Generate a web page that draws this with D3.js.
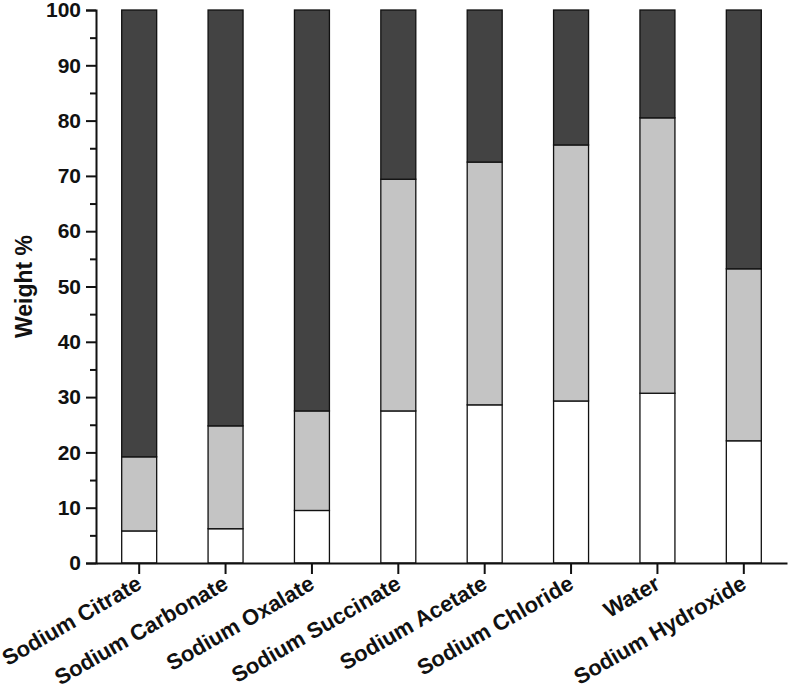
<!DOCTYPE html>
<html>
<head>
<meta charset="utf-8">
<script src="https://cdn.jsdelivr.net/npm/d3@7"></script>
<style>
  body { margin: 0; background: #fff; }
  text { font-family: "Liberation Sans", Arial, sans-serif; font-weight: bold; }
</style>
</head>
<body>
<div id="chart"></div>
<script>
var categories = ["Sodium Citrate", "Sodium Carbonate", "Sodium Oxalate", "Sodium Succinate",
                  "Sodium Acetate", "Sodium Chloride", "Water", "Sodium Hydroxide"];
// three stacked parts, bottom to top (weight %)
var lower  = [5.8, 6.2, 9.5, 27.5, 28.6, 29.3, 30.7, 22.1];
var middle = [13.4, 18.6, 18.0, 41.9, 43.9, 46.3, 49.8, 31.1];
var upper  = [80.8, 75.2, 72.5, 30.6, 27.5, 24.4, 19.5, 46.8];
var yTicks = [0, 10, 20, 30, 40, 50, 60, 70, 80, 90, 100];
var yMinor = [5, 15, 25, 35, 45, 55, 65, 75, 85, 95];

var width = 789, height = 684;
var x0 = 96, x1 = 787, yTop = 10, yBot = 563;

var svg = d3.select("#chart").append("svg")
    .attr("width", width)
    .attr("height", height);

var rows = categories.map(function(c, i) {
    return { name: c, lower: lower[i], middle: middle[i], upper: upper[i] };
});

var keys = ["lower", "middle", "upper"];
var fills = { lower: "#ffffff", middle: "#c4c4c4", upper: "#434343" };

var series = d3.stack().keys(keys)(rows);

var x = d3.scaleBand()
    .domain(categories)
    .range([x0, x1])
    .paddingInner(0.595)
    .paddingOuter(0.2975);

var y = d3.scaleLinear()
    .domain([0, 100])
    .range([yBot, yTop]);

svg.append("g")
    .selectAll("g")
    .data(series)
    .enter().append("g")
    .attr("fill", function(d) { return fills[d.key]; })
    .selectAll("rect")
    .data(function(d) { return d; })
    .enter().append("rect")
    .attr("x", function(d) { return x(d.data.name); })
    .attr("width", x.bandwidth())
    .attr("y", function(d) { return y(d[1]); })
    .attr("height", function(d) { return y(d[0]) - y(d[1]); })
    .attr("stroke", "#111")
    .attr("stroke-width", 1.3);

// y axis
var yAxis = svg.append("g")
    .attr("transform", "translate(" + x0 + ",0)")
    .call(d3.axisLeft(y).tickValues(yTicks).tickSize(10).tickPadding(5));

svg.append("g")
    .attr("transform", "translate(" + x0 + ",0)")
    .call(d3.axisLeft(y).tickValues(yMinor).tickSize(6).tickFormat(""))
    .select(".domain").remove();

yAxis.selectAll("text")
    .style("font-size", "21px")
    .attr("fill", "#111");

// x axis
var xAxis = svg.append("g")
    .attr("transform", "translate(0," + yBot + ")")
    .call(d3.axisBottom(x).tickSize(11).tickSizeOuter(0));

xAxis.selectAll("text").remove();

svg.selectAll(".domain, .tick line")
    .attr("stroke", "#111")
    .attr("stroke-width", 2);

svg.append("g")
    .selectAll("text")
    .data(categories)
    .enter().append("text")
    .attr("transform", function(d) {
        return "translate(" + (x(d) + x.bandwidth() / 2 + 4) + ",588) rotate(-30)";
    })
    .attr("text-anchor", "end")
    .style("font-size", "22px")
    .attr("fill", "#111")
    .text(function(d) { return d; });

// y label
svg.append("text")
    .attr("transform", "translate(32," + ((yTop + yBot) / 2) + ") rotate(-90)")
    .attr("text-anchor", "middle")
    .style("font-size", "23px")
    .attr("fill", "#111")
    .text("Weight %");
</script>
</body>
</html>
